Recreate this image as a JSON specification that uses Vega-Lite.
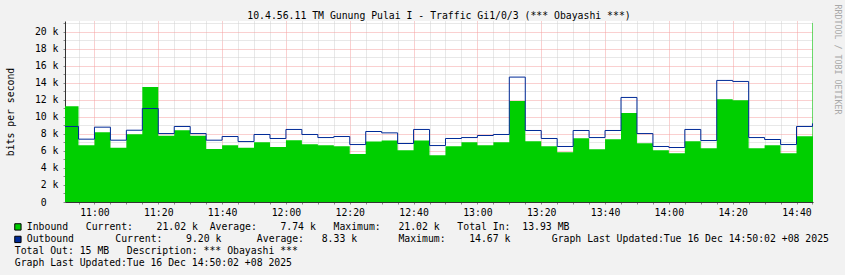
{
  "$schema": "https://vega.github.io/schema/vega-lite/v6.json",
  "width": 748,
  "height": 181,
  "autosize": "none",
  "padding": {"left": 65, "top": 21, "right": 32, "bottom": 73},
  "background": "#f2f2f2",
  "config": {"view": {"fill": "white", "stroke": null}, "font": "DejaVu Sans Mono"},
  "title": {
    "text": "10.4.56.11 TM Gunung Pulai I - Traffic Gi1/0/3 (*** Obayashi ***)",
    "font": "DejaVu Sans Mono", "fontSize": 9.8, "fontWeight": "normal", "color": "#000000",
    "anchor": "middle", "dx": 0, "dy": 19, "offset": 2
  },
  "data": {"values": [
    {"t": "2025-12-16T10:50:00Z", "inbound": 11260, "outbound": 8870},
    {"t": "2025-12-16T10:55:00Z", "inbound": 6670, "outbound": 7380},
    {"t": "2025-12-16T11:00:00Z", "inbound": 8200, "outbound": 8790},
    {"t": "2025-12-16T11:05:00Z", "inbound": 6360, "outbound": 7260},
    {"t": "2025-12-16T11:10:00Z", "inbound": 7960, "outbound": 8430},
    {"t": "2025-12-16T11:15:00Z", "inbound": 13500, "outbound": 10980},
    {"t": "2025-12-16T11:20:00Z", "inbound": 7770, "outbound": 8040},
    {"t": "2025-12-16T11:25:00Z", "inbound": 8430, "outbound": 8870},
    {"t": "2025-12-16T11:30:00Z", "inbound": 7770, "outbound": 8040},
    {"t": "2025-12-16T11:35:00Z", "inbound": 6240, "outbound": 7260},
    {"t": "2025-12-16T11:40:00Z", "inbound": 6670, "outbound": 7690},
    {"t": "2025-12-16T11:45:00Z", "inbound": 6360, "outbound": 7100},
    {"t": "2025-12-16T11:50:00Z", "inbound": 7020, "outbound": 7930},
    {"t": "2025-12-16T11:55:00Z", "inbound": 6470, "outbound": 7460},
    {"t": "2025-12-16T12:00:00Z", "inbound": 7260, "outbound": 8520},
    {"t": "2025-12-16T12:05:00Z", "inbound": 6790, "outbound": 7930},
    {"t": "2025-12-16T12:10:00Z", "inbound": 6670, "outbound": 7570},
    {"t": "2025-12-16T12:15:00Z", "inbound": 6550, "outbound": 7690},
    {"t": "2025-12-16T12:20:00Z", "inbound": 5650, "outbound": 6750},
    {"t": "2025-12-16T12:25:00Z", "inbound": 7100, "outbound": 8280},
    {"t": "2025-12-16T12:30:00Z", "inbound": 7220, "outbound": 8120},
    {"t": "2025-12-16T12:35:00Z", "inbound": 6080, "outbound": 6870},
    {"t": "2025-12-16T12:40:00Z", "inbound": 7220, "outbound": 8520},
    {"t": "2025-12-16T12:45:00Z", "inbound": 5490, "outbound": 6630},
    {"t": "2025-12-16T12:50:00Z", "inbound": 6550, "outbound": 7460},
    {"t": "2025-12-16T12:55:00Z", "inbound": 7020, "outbound": 7570},
    {"t": "2025-12-16T13:00:00Z", "inbound": 6670, "outbound": 7810},
    {"t": "2025-12-16T13:05:00Z", "inbound": 7020, "outbound": 7930},
    {"t": "2025-12-16T13:10:00Z", "inbound": 11850, "outbound": 14670},
    {"t": "2025-12-16T13:15:00Z", "inbound": 7140, "outbound": 8400},
    {"t": "2025-12-16T13:20:00Z", "inbound": 6550, "outbound": 7460},
    {"t": "2025-12-16T13:25:00Z", "inbound": 5850, "outbound": 6520},
    {"t": "2025-12-16T13:30:00Z", "inbound": 7490, "outbound": 8400},
    {"t": "2025-12-16T13:35:00Z", "inbound": 6200, "outbound": 7570},
    {"t": "2025-12-16T13:40:00Z", "inbound": 7380, "outbound": 8400},
    {"t": "2025-12-16T13:45:00Z", "inbound": 10440, "outbound": 12280},
    {"t": "2025-12-16T13:50:00Z", "inbound": 6900, "outbound": 8040},
    {"t": "2025-12-16T13:55:00Z", "inbound": 6080, "outbound": 6520},
    {"t": "2025-12-16T14:00:00Z", "inbound": 5730, "outbound": 6400},
    {"t": "2025-12-16T14:05:00Z", "inbound": 7140, "outbound": 8520},
    {"t": "2025-12-16T14:10:00Z", "inbound": 6320, "outbound": 7220},
    {"t": "2025-12-16T14:15:00Z", "inbound": 12080, "outbound": 14280},
    {"t": "2025-12-16T14:20:00Z", "inbound": 11960, "outbound": 14160},
    {"t": "2025-12-16T14:25:00Z", "inbound": 6320, "outbound": 7570},
    {"t": "2025-12-16T14:30:00Z", "inbound": 6670, "outbound": 7340},
    {"t": "2025-12-16T14:35:00Z", "inbound": 5730, "outbound": 6750},
    {"t": "2025-12-16T14:40:00Z", "inbound": 7730, "outbound": 8870},
    {"t": "2025-12-16T14:45:00Z", "inbound": 21020, "outbound": 9200},
    {"t": "2025-12-16T14:50:00Z", "inbound": 21020, "outbound": 9200}
  ]},
  "layer": [
    {
      "mark": {"type": "area", "interpolate": "step-after", "clip": true, "opacity": 1},
      "encoding": {
        "x": {
          "field": "t", "type": "temporal",
          "scale": {"type": "utc", "domain": [
            {"year": 2025, "month": 12, "date": 16, "hours": 10, "minutes": 50, "seconds": 46, "utc": true},
            {"year": 2025, "month": 12, "date": 16, "hours": 14, "minutes": 45, "seconds": 10, "utc": true}
          ]},
          "axis": {
            "tickCount": 48,
            "labelExpr": "utcminutes(datum.value) % 20 == 0 ? utcFormat(datum.value, '%H:%M') : ''",
            "gridColor": {"condition": {"test": "utcminutes(datum.value) % 20 == 0", "value": "#F4A0A0"}, "value": "#D0D0D0"},
            "gridDash": [1, 1],
            "tickSize": 2,
            "domainColor": "#333333",
            "labelFont": "DejaVu Sans Mono", "labelFontSize": 9.8, "labelColor": "#000000",
            "labelPadding": 3, "labelFlush": false, "labelOverlap": false,
            "title": ["Total Out: 15 MB\u00a0\u00a0\u00a0Description: *** Obayashi ***", "Graph Last Updated:Tue 16 Dec 14:50:02 +08 2025"],
            "titleX": -50.7, "titleY": 43, "titleAlign": "left", "titleBaseline": "top",
            "titleFont": "DejaVu Sans Mono", "titleFontSize": 9.8, "titleFontWeight": "normal", "titleColor": "#000000",
            "titleLineHeight": 12
          }
        },
        "y": {
          "field": "inbound", "type": "quantitative",
          "scale": {"domain": [0, 21260], "nice": false, "zero": true},
          "axis": {
            "values": [0,1000,2000,3000,4000,5000,6000,7000,8000,9000,10000,11000,12000,13000,14000,15000,16000,17000,18000,19000,20000,21000],
            "labelExpr": "datum.value % 2000 != 0 ? '' : (datum.value == 0 ? '0' : (datum.value / 1000) + ' k')",
            "labelPadding": {"condition": {"test": "datum.value == 0", "value": 16.8}, "value": 5},
            "gridColor": {"condition": {"test": "datum.value % 2000 == 0", "value": "#F4A0A0"}, "value": "#D0D0D0"},
            "gridDash": [1, 1],
            "tickSize": 2,
            "domainColor": "#333333",
            "labelFont": "DejaVu Sans Mono", "labelFontSize": 9.8, "labelColor": "#000000",
            "labelOverlap": false, "labelFlush": false,
            "title": "bits per second",
            "titleX": -54.2, "titleY": 90.5, "titleAngle": -90, "titleAlign": "center", "titleBaseline": "middle",
            "titleFont": "DejaVu Sans Mono", "titleFontSize": 9.8, "titleFontWeight": "normal", "titleColor": "#000000"
          }
        },
        "color": {
          "datum": "Inbound\u00a0\u00a0\u00a0Current:\u00a0\u00a0\u00a0\u00a021.02 k\u00a0\u00a0Average:\u00a0\u00a0\u00a0\u00a07.74 k\u00a0\u00a0\u00a0Maximum:\u00a0\u00a0\u00a021.02 k\u00a0\u00a0\u00a0Total In:\u00a0\u00a013.93 MB",
          "scale": {"domain": [
            "Inbound\u00a0\u00a0\u00a0Current:\u00a0\u00a0\u00a0\u00a021.02 k\u00a0\u00a0Average:\u00a0\u00a0\u00a0\u00a07.74 k\u00a0\u00a0\u00a0Maximum:\u00a0\u00a0\u00a021.02 k\u00a0\u00a0\u00a0Total In:\u00a0\u00a013.93 MB",
            "Outbound\u00a0\u00a0\u00a0\u00a0\u00a0\u00a0\u00a0Current:\u00a0\u00a0\u00a0\u00a09.20 k\u00a0\u00a0\u00a0\u00a0\u00a0\u00a0Average:\u00a0\u00a0\u00a08.33 k\u00a0\u00a0\u00a0\u00a0\u00a0\u00a0\u00a0Maximum:\u00a0\u00a0\u00a0\u00a014.67 k\u00a0\u00a0\u00a0\u00a0\u00a0\u00a0\u00a0Graph Last Updated:Tue 16 Dec 14:50:02 +08 2025"
          ], "range": ["#00CF00", "#002A97"]},
          "legend": {
            "orient": "none", "legendX": -52, "legendY": 201, "direction": "vertical", "title": null,
            "padding": 0, "symbolType": "square", "symbolSize": 40, "symbolOpacity": 1,
            "symbolStrokeColor": "#000000", "symbolStrokeWidth": 1,
            "labelFont": "DejaVu Sans Mono", "labelFontSize": 9.8, "labelColor": "#000000",
            "labelLimit": 2000, "labelOffset": 4, "rowPadding": 0.5
          }
        }
      }
    },
    {
      "mark": {"type": "line", "interpolate": "step-after", "clip": true, "color": "#002A97", "strokeWidth": 1},
      "encoding": {
        "x": {"field": "t", "type": "temporal"},
        "y": {
          "field": "outbound", "type": "quantitative",
          "scale": {"domain": [0, 21260], "nice": false, "zero": true},
          "axis": {
            "orient": "right", "labels": false, "ticks": false, "domain": false, "grid": false,
            "title": "RRDTOOL / TOBI OETIKER",
            "titleX": 23, "titleY": 38, "titleAngle": 90, "titleAlign": "center", "titleBaseline": "middle",
            "titleFont": "DejaVu Sans Mono", "titleFontSize": 8.3, "titleFontWeight": "normal", "titleColor": "#A8A8A8"
          }
        }
      }
    }
  ],
  "resolve": {"axis": {"y": "independent"}}
}
